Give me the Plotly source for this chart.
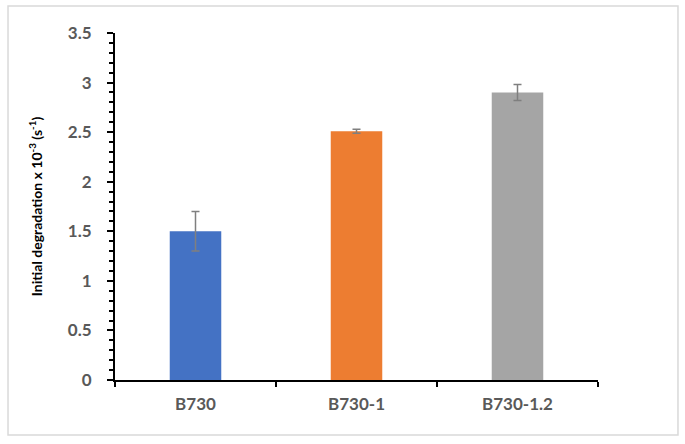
import plotly.graph_objects as go

# data
samples = ["B730", "B730-1", "B730-1.2"]
rates = [1.50, 2.51, 2.90]
rate_err = [0.20, 0.02, 0.08]
bar_colors = ["#4472C4", "#ED7D31", "#A5A5A5"]

fig = go.Figure()
fig.add_trace(go.Bar(
    x=samples,
    y=rates,
    width=0.32,
    marker=dict(color=bar_colors, line=dict(width=0)),
    error_y=dict(type="data", array=rate_err, visible=True,
                 color="#7F7F7F", thickness=1.5, width=4),
))

tick_font = dict(family="Lato, 'Open Sans', sans-serif", size=17, color="#595959", weight="bold")

fig.update_layout(
    width=685, height=444,
    margin=dict(l=115, r=87, t=33, b=64),
    plot_bgcolor="white", paper_bgcolor="white",
    showlegend=False,
    xaxis=dict(
        range=[-0.5, 2.5], automargin=False,
        showline=True, linecolor="black", linewidth=2,
        ticks="outside", tickson="boundaries", ticklen=5, tickcolor="black", tickwidth=2,
        tickfont=tick_font, showgrid=False, ticklabelstandoff=8,
    ),
    yaxis=dict(
        range=[0, 3.5], dtick=0.5, automargin=False,
        showline=True, linecolor="black", linewidth=2,
        ticks="outside", ticklen=6, tickcolor="black", tickwidth=2,
        minor=dict(dtick=0.1, ticks="outside", ticklen=4, tickcolor="black", tickwidth=1.5),
        tickfont=tick_font, showgrid=False, zeroline=False, ticklabelstandoff=12,
        title=dict(
            text="<b>Initial degradation x 10<sup>-3</sup> (s<sup>-1</sup>)</b>",
            font=dict(family="Lato, 'Open Sans', sans-serif", size=14, color="black"),
            standoff=22,
        ),
    ),
    shapes=[dict(type="rect", xref="paper", yref="paper",
                 x0=-0.2215, x1=1.1656, y0=-0.1585, y1=1.078,
                 line=dict(color="#D9D9D9", width=1.5), layer="below")],
)

# the page body has a default 8px margin; drop it so the figure sits at the window corner
fig.write_html("out.html", config={"displayModeBar": False},
               post_script="document.body.style.margin='0';")
